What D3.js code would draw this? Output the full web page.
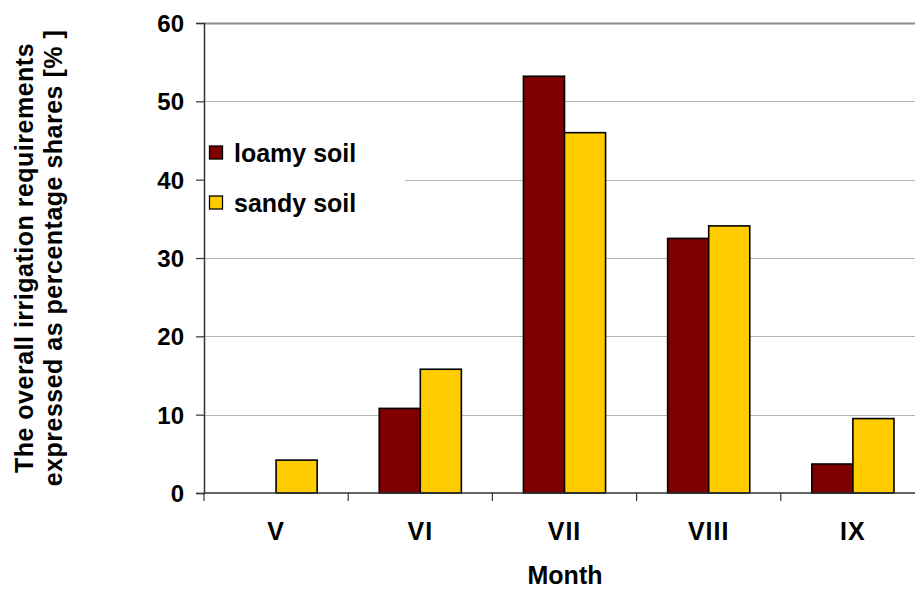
<!DOCTYPE html>
<html>
<head>
<meta charset="utf-8">
<script src="https://cdn.jsdelivr.net/npm/d3@7"></script>
<style>
  html, body { margin: 0; padding: 0; background: #fff; }
  svg { display: block; font-family: "Liberation Sans", Arial, sans-serif; font-weight: bold; }
</style>
</head>
<body>
<svg id="chart" width="915" height="590"></svg>
<script>
// Monthly share of the season's irrigation requirement, by soil type
const months = ["V", "VI", "VII", "VIII", "IX"];
const seriesNames = ["loamy soil", "sandy soil"];
const loamy = [0, 10.8, 53.2, 32.5, 3.7];
const sandy = [4.2, 15.8, 46.0, 34.1, 9.5];
const yTicks = [0, 10, 20, 30, 40, 50, 60];
const colors = ["#800000", "#FFCC00"];

const svg = d3.select("#chart");
const plot = { left: 204, right: 925, top: 23, bottom: 493 };

const x0 = d3.scaleBand().domain(months).range([plot.left, plot.right]).paddingInner(0).paddingOuter(0);
const x1 = d3.scaleBand().domain(seriesNames).range([0, x0.bandwidth()]).paddingInner(0).paddingOuter(0.756);
const y = d3.scaleLinear().domain([0, 60]).range([plot.bottom, plot.top]);
const color = d3.scaleOrdinal().domain(seriesNames).range(colors);

// horizontal gridlines
svg.append("g")
  .selectAll("line")
  .data(yTicks.filter(t => t > 0))
  .join("line")
  .attr("x1", plot.left).attr("x2", 915)
  .attr("y1", d => Math.round(y(d)) + 0.5).attr("y2", d => Math.round(y(d)) + 0.5)
  .attr("stroke", d => d === 60 ? "#8c8c8c" : "#b4b4b4")
  .attr("stroke-width", d => d === 60 ? 2 : 1);

// bars
const rows = months.map((m, i) => ({ month: m, values: [
  { key: seriesNames[0], value: loamy[i] },
  { key: seriesNames[1], value: sandy[i] }
]}));

svg.append("g")
  .selectAll("g")
  .data(rows)
  .join("g")
  .attr("transform", d => `translate(${x0(d.month)},0)`)
  .selectAll("rect")
  .data(d => d.values.filter(v => v.value > 0))
  .join("rect")
  .attr("x", d => x1(d.key))
  .attr("width", x1.bandwidth())
  .attr("y", d => y(d.value))
  .attr("height", d => y(0) - y(d.value))
  .attr("fill", d => color(d.key))
  .attr("stroke", "#000")
  .attr("stroke-width", 1.6);

// legend (white panel sits over the gridline)
const legend = svg.append("g");
legend.append("rect")
  .attr("x", plot.left + 1).attr("y", 127).attr("width", 200).attr("height", 96)
  .attr("fill", "#fff");
seriesNames.forEach((name, i) => {
  const cy = 152.5 + i * 50;
  legend.append("rect")
    .attr("x", 209.5).attr("y", cy - 6.5).attr("width", 13).attr("height", 13)
    .attr("fill", color(name)).attr("stroke", "#000").attr("stroke-width", 1.3);
  legend.append("text")
    .attr("x", 234).attr("y", cy + 9.5)
    .attr("font-size", 25).attr("fill", "#000")
    .text(name);
});

// y axis
const yAxis = d3.axisLeft(y).tickValues(yTicks).tickSize(8).tickPadding(12).tickFormat(d3.format("d"));
const gy = svg.append("g").attr("transform", `translate(${plot.left},0)`).call(yAxis);
gy.select(".domain").attr("stroke", "#333").attr("stroke-width", 1.5);
gy.selectAll(".tick line").attr("stroke", "#333").attr("stroke-width", 1.2);
gy.selectAll(".tick text").attr("font-size", 24).attr("font-weight", "bold").attr("fill", "#000")
  .attr("font-family", "Liberation Sans, Arial, sans-serif").attr("dy", "0.36em");

// x axis: ticks on category boundaries
const gx = svg.append("g").attr("transform", `translate(0,${plot.bottom})`);
gx.append("line")
  .attr("x1", plot.left).attr("x2", 915).attr("y1", 0).attr("y2", 0)
  .attr("stroke", "#333").attr("stroke-width", 1.5);
gx.selectAll("line.tk")
  .data(months)
  .join("line").attr("class", "tk")
  .attr("x1", d => x0(d)).attr("x2", d => x0(d))
  .attr("y1", 0).attr("y2", 8)
  .attr("stroke", "#333").attr("stroke-width", 1.2);
gx.selectAll("text")
  .data(months)
  .join("text")
  .attr("x", d => x0(d) + x0.bandwidth() / 2)
  .attr("y", 47)
  .attr("text-anchor", "middle")
  .attr("font-size", 25).attr("letter-spacing", 1).attr("fill", "#000")
  .text(d => d);

// axis titles
svg.append("text")
  .attr("x", 565).attr("y", 584)
  .attr("text-anchor", "middle")
  .attr("font-size", 25).attr("fill", "#000")
  .text("Month");

const yTitle = svg.append("text")
  .attr("transform", `translate(0,${(plot.top + plot.bottom) / 2}) rotate(-90)`)
  .attr("text-anchor", "middle")
  .attr("font-size", 25).attr("letter-spacing", 0.5).attr("fill", "#000");
yTitle.append("tspan").attr("x", 0).attr("y", 33).text("The overall irrigation requirements");
yTitle.append("tspan").attr("x", 0).attr("y", 62).text("expressed as percentage shares [% ]");
</script>
</body>
</html>
